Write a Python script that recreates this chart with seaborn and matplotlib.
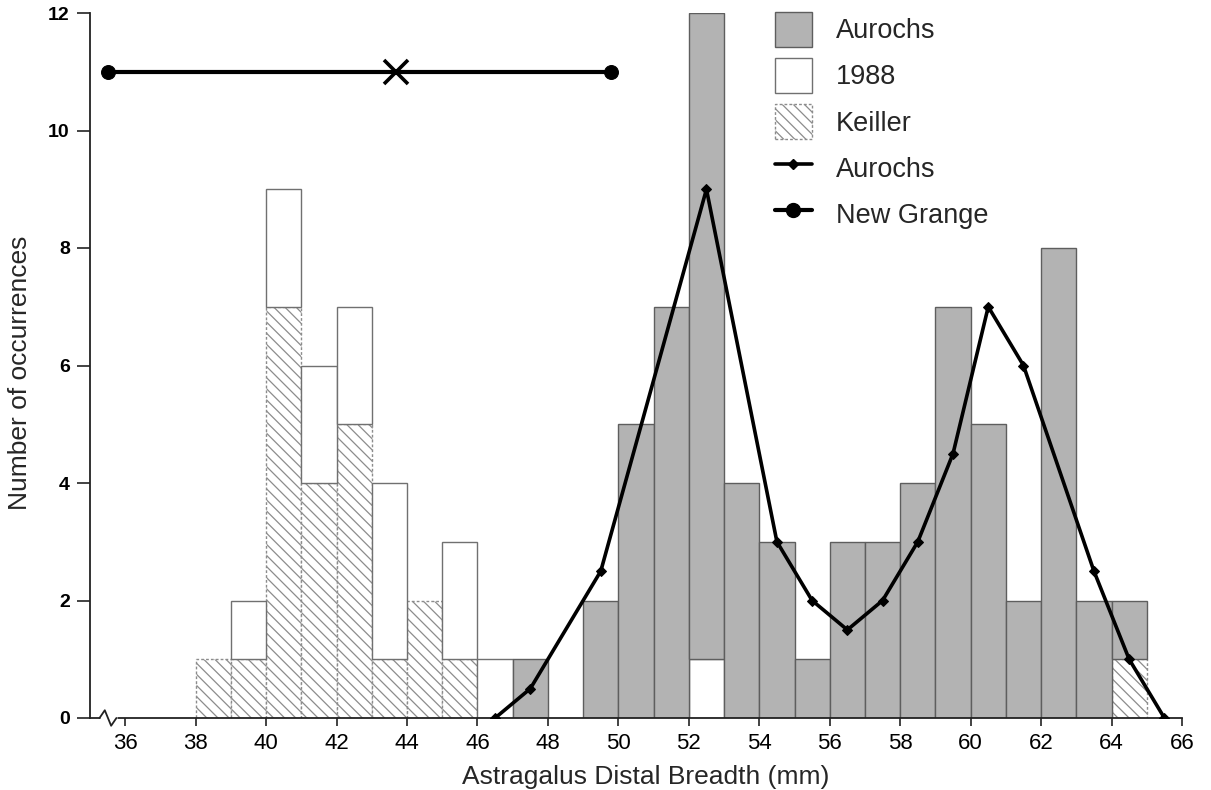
import numpy as np
import pandas as pd
import matplotlib
matplotlib.use("Agg")
import matplotlib.pyplot as plt
from matplotlib.patches import Patch
from matplotlib.lines import Line2D
from matplotlib.legend_handler import HandlerLine2D
from matplotlib.transforms import blended_transform_factory
import seaborn as sns

# ---- data -----------------------------------------------------------------
# 1 mm histogram bins, left edges 38 ... 64
bin_left = list(range(38, 65))
keiller = [1, 1, 7, 4, 5, 1, 2, 1, 0,
           0, 0, 0, 0, 0, 0, 0, 0, 0, 0, 0, 0, 0, 0, 0, 0, 0, 1]
year_1988 = [0, 1, 2, 2, 2, 3, 0, 2, 1,
             0, 0, 0, 0, 0, 1, 0, 0, 0, 0, 0, 0, 0, 0, 0, 0, 0, 0]
aurochs_bars = [0, 0, 0, 0, 0, 0, 0, 0, 0,
                1, 0, 2, 5, 7, 11, 4, 3, 1, 3, 3, 4, 7, 5, 2, 8, 2, 1]

# reference aurochs frequency curve
curve_x = [46.5, 47.5, 49.5, 52.5, 54.5, 55.5, 56.5, 57.5, 58.5, 59.5,
           60.5, 61.5, 63.5, 64.5, 65.5]
curve_y = [0, 0.5, 2.5, 9, 3, 2, 1.5, 2, 3, 4.5, 7, 6, 2.5, 1, 0]

# New Grange range and mean
newgrange_x = [35.5, 49.8]
newgrange_level = 11
newgrange_mean = 43.7

x_ticks = list(range(36, 67, 2))
y_ticks = list(range(0, 13, 2))

# ---- style ------------------------------------------------------------------
sns.set_style("ticks")
plt.rcParams["font.family"] = ["Liberation Sans", "DejaVu Sans"]
plt.rcParams["hatch.linewidth"] = 0.9

GRAY_FILL = "#b3b3b3"
GRAY_EDGE = "#5e5e5e"
WHITE_EDGE = "#707070"
HATCH_EDGE = "#8c8c8c"
HATCH = "\\\\\\"

# stacking: the first hue level is drawn on top of the stack
series_order = ["Aurochs", "1988", "Keiller"]
series_counts = {"Keiller": keiller, "1988": year_1988, "Aurochs": aurochs_bars}

rows = []
for name in series_order:
    for left, c in zip(bin_left, series_counts[name]):
        rows.append({"mm": left + 0.5, "count": c, "series": name})
df = pd.DataFrame(rows)
edges = [float(e) for e in range(bin_left[0], bin_left[-1] + 2)]

fig = plt.figure(figsize=(12.11, 7.90), dpi=100)
ax = fig.add_axes([90 / 1211, 1 - 718 / 790, (1182 - 90) / 1211, (718 - 13) / 790])

sns.histplot(data=df, x="mm", weights="count", hue="series",
             hue_order=series_order, multiple="stack", bins=edges,
             palette={"Keiller": "white", "1988": "white", "Aurochs": GRAY_FILL},
             alpha=1, edgecolor=GRAY_EDGE, linewidth=1.0, legend=False, ax=ax)

# style each stacked layer
for cont in ax.containers:
    heights = [p.get_height() for p in cont]
    name = next(n for n in series_order
                if np.allclose(heights, series_counts[n]))
    for p in cont:
        if p.get_height() == 0:
            p.set_visible(False)
            continue
        if name == "Aurochs":
            p.set_facecolor(GRAY_FILL)
            p.set_edgecolor(GRAY_EDGE)
        elif name == "1988":
            p.set_facecolor("white")
            p.set_edgecolor(WHITE_EDGE)
        else:
            p.set_facecolor("white")
            p.set_edgecolor(HATCH_EDGE)
            p.set_hatch(HATCH)
            p.set_linestyle((0, (2.0, 1.5)))

# aurochs curve
sns.lineplot(x=curve_x, y=curve_y, ax=ax, color="black", lw=2.6,
             marker="D", markersize=5.5, markeredgecolor="black",
             zorder=6, estimator=None, sort=False)

# New Grange range with mean
sns.lineplot(x=newgrange_x, y=[newgrange_level] * 2, ax=ax, color="black",
             lw=3.0, marker="o", markersize=10, markeredgecolor="black",
             zorder=6, estimator=None, clip_on=False)
ax.plot([newgrange_mean], [newgrange_level], marker="x", color="black",
        markersize=17, markeredgewidth=2.6, zorder=7)

# ---- axes -------------------------------------------------------------------
ax.set_xlim(35, 66)
ax.set_ylim(0, 12)
ax.set_xticks(x_ticks)
ax.set_yticks(y_ticks)
ax.set_xticklabels([str(t) for t in x_ticks], fontsize=16)
ax.set_yticklabels([str(t) for t in y_ticks], fontsize=14, fontweight="bold")
sns.despine(ax=ax)
for s in ("left", "bottom"):
    ax.spines[s].set_linewidth(1.3)
    ax.spines[s].set_color("#222222")
ax.tick_params(axis="y", length=9.5, width=1.2, pad=5, colors="#222222",
               labelcolor="black")
ax.tick_params(axis="x", length=5.5, width=1.2, pad=5, colors="#222222",
               labelcolor="black")

ax.set_xlabel("Astragalus Distal Breadth (mm)", fontsize=19)
ax.set_ylabel("Number of occurrences", fontsize=19)
ax.xaxis.set_label_coords(0.509, -0.066)
ax.yaxis.set_label_coords(-0.053, 0.489)

# axis break mark on the x axis
bt = blended_transform_factory(ax.transData, ax.transAxes)
ax.plot([35.27, 35.76], [0, 0], transform=bt, color="white", lw=3.5,
        clip_on=False, zorder=8, solid_capstyle="butt")
ax.plot([35.27, 35.42, 35.60, 35.75], [0, 0.011, -0.011, 0], transform=bt,
        color="#222222", lw=1.3, clip_on=False, zorder=9)

# ---- legend -----------------------------------------------------------------
class EndMarkerHandler(HandlerLine2D):
    def get_xdata(self, legend, xdescent, ydescent, width, height, fontsize):
        xdata = np.array([-xdescent, -xdescent + width])
        return xdata, np.array([-xdescent + width])


handles = [
    Patch(facecolor=GRAY_FILL, edgecolor=GRAY_EDGE, lw=1.0),
    Patch(facecolor="white", edgecolor=WHITE_EDGE, lw=1.0),
    Patch(facecolor="white", edgecolor=HATCH_EDGE, lw=1.0, hatch=HATCH,
          linestyle=(0, (2.0, 1.5))),
    Line2D([], [], color="black", lw=2.6, marker="D", markersize=5.5),
    Line2D([], [], color="black", lw=3.0, marker="o", markersize=10),
]
labels = ["Aurochs", "1988", "Keiller", "Aurochs", "New Grange"]
fig.legend(handles, labels, loc="upper left",
           bbox_to_anchor=(775 / 1211, 1 - 12 / 790),
           bbox_transform=fig.transFigure, frameon=False, fontsize=19.5,
           handlelength=1.35, handleheight=1.6, labelspacing=0.42,
           handletextpad=0.9, borderpad=0, borderaxespad=0,
           handler_map={handles[3]: EndMarkerHandler(),
                        handles[4]: EndMarkerHandler()})

fig.savefig("out.png", dpi=100)
